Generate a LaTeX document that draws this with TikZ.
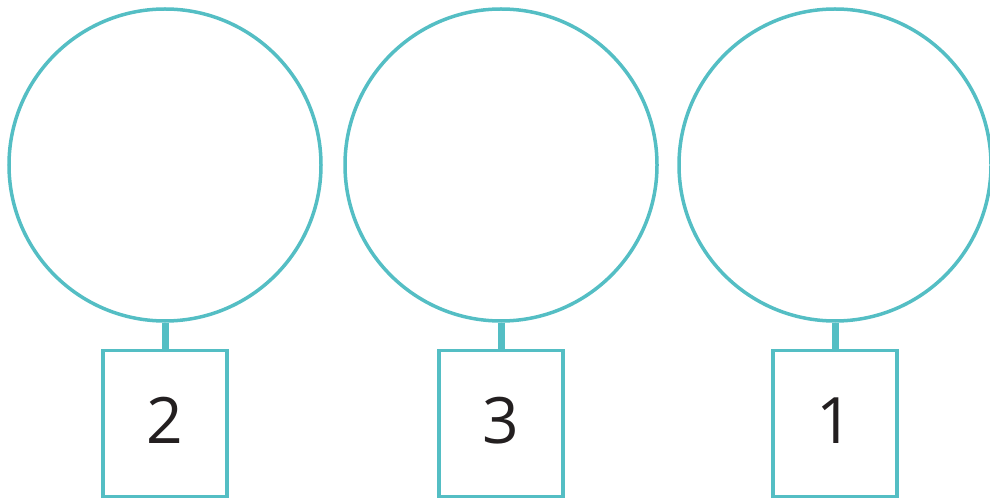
\documentclass[tikz,border=0pt]{standalone}
\usepackage{fontspec}
\setmainfont{Open Sans}
\usetikzlibrary{positioning}
\definecolor{ringteal}{RGB}{84,190,196}
\definecolor{digitgray}{RGB}{35,31,32}

\begin{document}
\begin{tikzpicture}[x=1pt,y=1pt,node distance=26pt,
    ring/.style={draw=ringteal,line width=3.5pt,circle,minimum size=312pt,inner sep=0pt},
    tag/.style={draw=ringteal,line width=3.5pt,minimum width=124pt,minimum height=146pt,inner sep=0pt,
      text=digitgray,font=\fontsize{64}{64}\selectfont},
    stem/.style={draw=ringteal,line width=7pt}]
        \useasboundingbox (0,0) rectangle (990,501);
        \node[ring] (ringa) at (165,336) {};
        \node[ring] (ringb) at (501,336) {};
        \node[ring] (ringc) at (835,336) {};
        \node[tag,below=of ringa] (taga) {\raisebox{6pt}{2}};
        \node[tag,below=of ringb] (tagb) {\raisebox{6pt}{3}};
        \node[tag,below=of ringc] (tagc) {\raisebox{6pt}{1}};
        \draw[stem] (ringa)--(taga);
        \draw[stem] (ringb)--(tagb);
        \draw[stem] (ringc)--(tagc);
      \end{tikzpicture}
\end{document}
